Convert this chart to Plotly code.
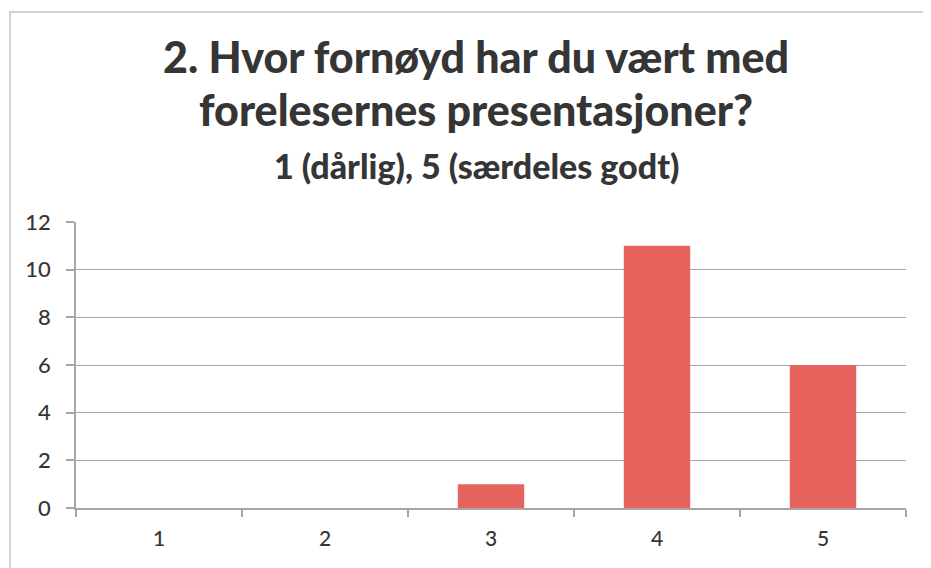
import plotly.graph_objects as go

categories = ["1", "2", "3", "4", "5"]
values = [0, 0, 1, 11, 6]
y_ticks = [0, 2, 4, 6, 8, 10, 12]

title_lines = ["2. Hvor fornøyd har du vært med", "forelesernes presentasjoner?"]
subtitle = "1 (dårlig), 5 (særdeles godt)"

FONT = "Lato"
TXT = "#353535"
GRID = "#a6a6a6"

fig = go.Figure(go.Bar(x=categories, y=values, marker=dict(color="#e6645d", line=dict(width=0)),
                       width=0.4))

fig.update_layout(
    width=931, height=568,
    margin=dict(l=68, r=33, t=214, b=68),
    paper_bgcolor="white", plot_bgcolor="white",
    showlegend=False,
    font=dict(family=FONT, color=TXT),
    xaxis=dict(type="category", tickson="boundaries", ticks="outside", ticklen=7, tickcolor=GRID,
               tickwidth=1.5, showline=True, linecolor=GRID, linewidth=1.5, showgrid=False,
               ticklabelstandoff=11, automargin=False,
               tickfont=dict(size=21, color=TXT, family=FONT, weight=500)),
    yaxis=dict(range=[0, 12], tickvals=y_ticks, ticks="outside", ticklen=8, tickcolor=GRID,
               tickwidth=1.5, showline=True, linecolor=GRID, linewidth=1.5, showgrid=True,
               gridcolor=GRID, gridwidth=1.3, zeroline=False, ticklabelstandoff=11,
               automargin=False,
               tickfont=dict(size=22, color=TXT, family=FONT, weight=500)),
    shapes=[dict(type="rect", xref="paper", yref="paper", x0=-0.0795, x1=1.1, y0=-0.4, y1=1.734,
                 line=dict(color="#c4c4c4", width=1.5), fillcolor="rgba(0,0,0,0)")],
    annotations=[
        dict(text=title_lines[0], xref="paper", yref="paper", x=0.482, y=1.577,
             showarrow=False, yanchor="middle", font=dict(size=43, color=TXT, family=FONT, weight=900)),
        dict(text=title_lines[1], xref="paper", yref="paper", x=0.482, y=1.392,
             showarrow=False, yanchor="middle", font=dict(size=43, color=TXT, family=FONT, weight=900)),
        dict(text=subtitle, xref="paper", yref="paper", x=0.482, y=1.199,
             showarrow=False, yanchor="middle", font=dict(size=34, color=TXT, family=FONT, weight=900)),
    ],
)

fig.write_html("out.html")
